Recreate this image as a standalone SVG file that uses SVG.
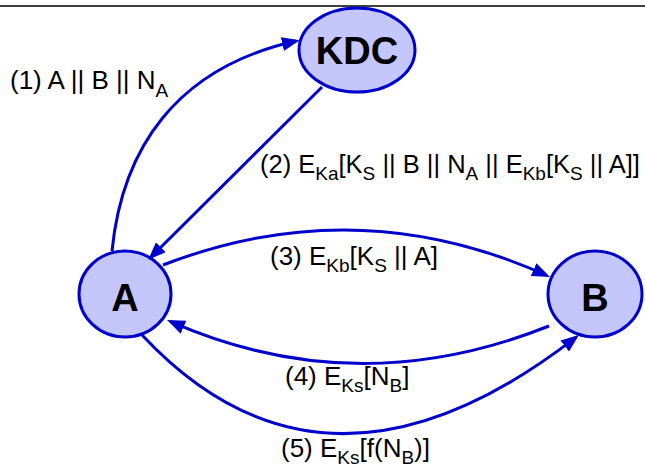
<svg xmlns="http://www.w3.org/2000/svg" width="645" height="470" viewBox="0 0 645 470">
  <style>
    .node { fill: #c4c6fc; stroke: #0000cc; stroke-width: 3; }
    .nlabel { font-family: "Liberation Sans", Arial, sans-serif; font-weight: bold; font-size: 38px; fill: #000; text-anchor: middle; }
    .edge { fill: none; stroke: #0000cc; stroke-width: 3; marker-end: url(#head); }
    .elabel { font-family: "Liberation Sans", Arial, sans-serif; font-size: 26px; fill: #000; }
    .sub { font-size: 19px; }
    .tight { font-size: 25.5px; }
  </style>
  <defs>
    <marker id="head" markerUnits="userSpaceOnUse" markerWidth="18" markerHeight="14" refX="14" refY="7" orient="auto">
      <path d="M0,0 L18,7 L0,14 Z" fill="#0000cc"/>
    </marker>
  </defs>

  <rect width="645" height="470" fill="#ffffff"/>
  <line x1="0" y1="6" x2="645" y2="6" stroke="#000" stroke-width="1.5"/>

  <g id="node-kdc">
    <ellipse class="node" cx="357" cy="50" rx="58" ry="42"/>
    <text class="nlabel" x="357" y="64">KDC</text>
  </g>
  <g id="node-a">
    <ellipse class="node" cx="125" cy="294" rx="46" ry="43"/>
    <text class="nlabel" x="125" y="311">A</text>
  </g>
  <g id="node-b">
    <ellipse class="node" cx="595" cy="294" rx="47" ry="43"/>
    <text class="nlabel" x="595" y="311">B</text>
  </g>

  <g id="connectors">
    <g id="edge-1">
      <path class="edge" d="M112,251 C122,150 175,68 296,41"/>
      <text class="elabel" x="10" y="89">(1) A || B || N<tspan class="sub" dy="8">A</tspan></text>
    </g>
    <g id="edge-2">
      <path class="edge" d="M322,87 L151,257"/>
      <text class="elabel tight" x="260" y="173">(2) E<tspan class="sub" dy="7">Ka</tspan><tspan dy="-7">[K</tspan><tspan class="sub" dy="7">S</tspan><tspan dy="-7"> || B || N</tspan><tspan class="sub" dy="7">A</tspan><tspan dy="-7"> || E</tspan><tspan class="sub" dy="7">Kb</tspan><tspan dy="-7">[K</tspan><tspan class="sub" dy="7">S</tspan><tspan dy="-7"> || A]]</tspan></text>
    </g>
    <g id="edge-3">
      <path class="edge" d="M163,265 Q357,190 546.4,275.4"/>
      <text class="elabel" x="270" y="265">(3) E<tspan class="sub" dy="7">Kb</tspan><tspan dy="-7">[K</tspan><tspan class="sub" dy="7">S</tspan><tspan dy="-7"> || A]</tspan></text>
    </g>
    <g id="edge-4">
      <path class="edge" d="M549,326 Q356,403 170.7,321.6"/>
      <text class="elabel" x="285" y="385">(4) E<tspan class="sub" dy="7">Ks</tspan><tspan dy="-7">[N</tspan><tspan class="sub" dy="7">B</tspan><tspan dy="-7">]</tspan></text>
    </g>
    <g id="edge-5">
      <path class="edge" d="M142,335 Q325.5,531 575.8,337.4"/>
      <text class="elabel" x="281" y="457">(5) E<tspan class="sub" dy="7">Ks</tspan><tspan dy="-7">[f(N</tspan><tspan class="sub" dy="7">B</tspan><tspan dy="-7">)]</tspan></text>
    </g>
  </g>
</svg>
